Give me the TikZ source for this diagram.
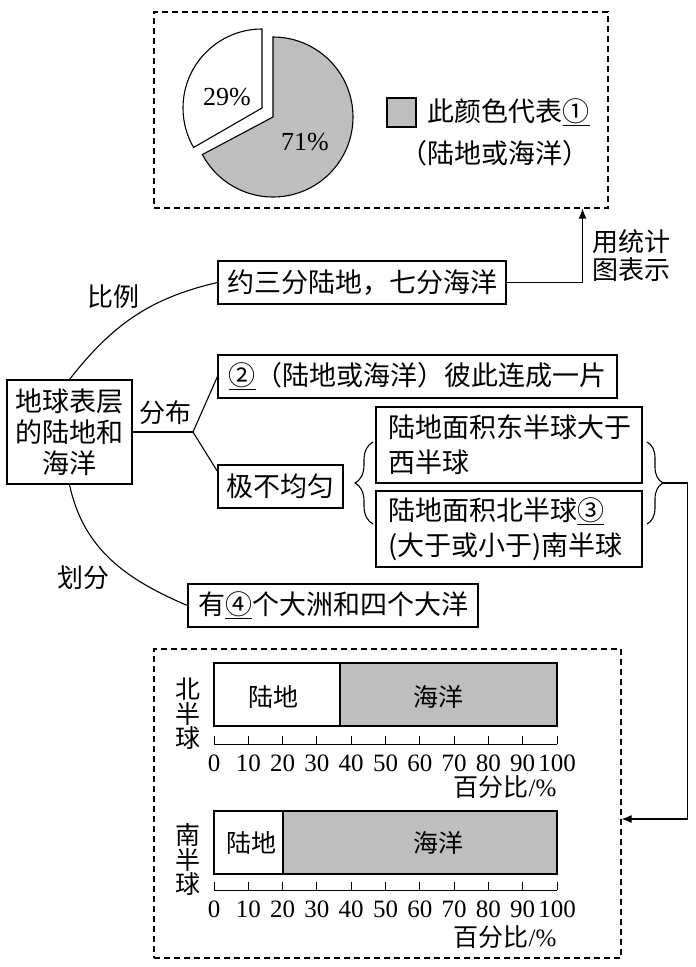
\documentclass[tikz,border=0pt]{standalone}
\usepackage{fontspec}
\setmainfont{Liberation Serif}
\newfontfamily\cjk{Noto Sans CJK SC}
\usetikzlibrary{arrows.meta,decorations.pathreplacing,calc}
\definecolor{sea}{RGB}{190,190,190}
\begin{document}
\begin{tikzpicture}[x=1pt,y=-1pt,line width=1.1pt,
  box/.style={draw,inner sep=0pt,align=center,font=\cjk\fontsize{27}{35}\selectfont},
  dashbox/.style={draw,dash pattern=on 6pt off 4pt,inner sep=0pt},
  lbl/.style={inner sep=0pt,align=center,font=\cjk\fontsize{26}{28}\selectfont},
  num/.style={inner sep=0pt,font=\fontsize{25}{25}\selectfont},
  pct/.style={inner sep=0pt,font=\fontsize{26}{26}\selectfont},
  barlbl/.style={inner sep=0pt,align=center,font=\cjk\fontsize{25}{24.5}\selectfont},
  arr/.style={-{Latex[length=10pt,width=8pt]}},
  brc/.style={decorate,line width=1.1pt}]
\fill[white] (0,0) rectangle (696,967);
\useasboundingbox (0,0) rectangle (696,967);

% ---------- top dashed box with pie chart ----------
\node[dashbox,minimum width=454,minimum height=196] (topbox) at (381,110) {};
\begin{scope}[shift={(273,117)},y=1pt]
  \filldraw[fill=sea] (0,0) -- (90:80) arc[start angle=90,end angle=-152,radius=80] -- cycle;
  \filldraw[fill=white] (-11,9) -- ++(90:79) arc[start angle=90,end angle=210,radius=79] -- cycle;
\end{scope}
\node[pct] (p29) at (227,97) {29\%};
\node[pct] (p71) at (305,142) {71\%};
\filldraw[fill=sea] (387,98) rectangle (416,127);
\node[lbl,anchor=west,font=\cjk\fontsize{27}{27}\selectfont] (leg1) at (427,112) {此颜色代表\underline{①}};
\node[lbl,font=\cjk\fontsize{27}{27}\selectfont] (leg2) at (495,153) {（陆地或海洋）};

% ---------- concept map ----------
\node[box,minimum width=125,minimum height=104,font=\cjk\fontsize{27}{31}\selectfont] (main) at (69.5,432) {地球表层\\的陆地和\\海洋};
\node[box,minimum width=288,minimum height=43] (b1) at (362,282.5) {约三分陆地，七分海洋};
\node[box,minimum width=399,minimum height=43] (b2) at (417.5,376.5) {\underline{②}（陆地或海洋）彼此连成一片};
\node[box,minimum width=125,minimum height=43] (b3) at (280.5,486.5) {极不均匀};
\node[box,text width=242,inner xsep=12pt,minimum height=76,align=left] (b4) at (509,445) {陆地面积东半球大于\\西半球};
\node[box,text width=242,inner xsep=12pt,minimum height=76,align=left] (b5) at (509,529) {陆地面积北半球\underline{③}\\(大于或小于)南半球};
\node[box,minimum width=290,minimum height=43] (b6) at (333,605.5) {有\underline{④}个大洲和四个大洋};

\node[lbl] (lbl1) at (113,297) {比例};
\node[lbl] (lbl2) at (165,413) {分布};
\node[lbl] (lbl3) at (83,578) {划分};
\node[lbl] (lbl4) at (631,256) {用统计\\图表示};

\draw (main.north) to[out=52,in=193] (b1.west);
\draw (main.south) to[out=-78,in=157] (b6.west);
\coordinate (fork) at (193,432);
\draw (main.east) -- (fork);
\draw (fork) -- (b2.west);
\draw (fork) -- ($(b3.north west)+(0,7)$);

\draw[arr] (b1.east) -| ($(topbox.south east)+(-26,0)$);

% braces
\draw[brc,decoration={brace,amplitude=18pt}] (373,524) -- (373,442);
\draw[brc,decoration={brace,amplitude=16pt}] (647,442) -- (647,524);
\coordinate (rtip) at (663,483);

% ---------- bottom dashed box with bar charts ----------
\node[dashbox,minimum width=467,minimum height=309] (botbox) at (387.5,803.5) {};
\draw[arr] (rtip) -| ($(botbox.east)+(66,15.5)$) -- ($(botbox.east)+(0,15.5)$);

% bar 1 (northern hemisphere)
\fill[sea] (340,663) rectangle (557,726);
\draw (214,663) rectangle (557,726);
\draw (340,663) -- (340,726);
\node[barlbl] (n1) at (273,697) {陆地};
\node[barlbl] (n2) at (438,697) {海洋};
\node[barlbl] (nh) at (188,714) {北\\半\\球};
\draw[line width=1pt] (214,744) -- (557,744);
\foreach \i in {0,...,10}{
  \pgfmathtruncatemacro\v{\i*10}
  \draw[line width=1pt] (214+34.3*\i,736) -- (214+34.3*\i,744);
  \node[num] at (214+34.3*\i,763) {\v};
}
\node[barlbl,anchor=east] (u1) at (557,787) {百分比{\rmfamily/\%}};

% bar 2 (southern hemisphere)
\fill[sea] (283,811) rectangle (557,874);
\draw (214,811) rectangle (557,874);
\draw (283,811) -- (283,874);
\node[barlbl] (s1) at (251,843) {陆地};
\node[barlbl] (s2) at (438,843) {海洋};
\node[barlbl] (sh) at (188,860) {南\\半\\球};
\draw[line width=1pt] (214,890) -- (557,890);
\foreach \i in {0,...,10}{
  \pgfmathtruncatemacro\v{\i*10}
  \draw[line width=1pt] (214+34.3*\i,882) -- (214+34.3*\i,890);
  \node[num] at (214+34.3*\i,909) {\v};
}
\node[barlbl,anchor=east] (u2) at (557,937) {百分比{\rmfamily/\%}};
\end{tikzpicture}
\end{document}
